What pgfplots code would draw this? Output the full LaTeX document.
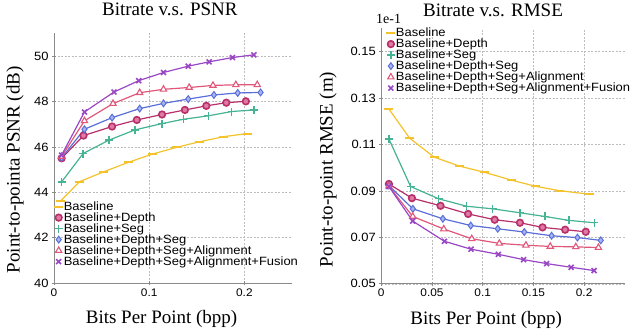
\documentclass[border=0pt]{standalone}
\usepackage{fontspec}
\setmainfont{Liberation Serif}
\newfontfamily\arial[FakeStretch=1.08]{Liberation Sans}
\usepackage{pgfplots}
\pgfplotsset{compat=1.18}
\definecolor{cBase}{HTML}{F4C22B}
\definecolor{cDepth}{HTML}{B8306A}
\definecolor{cDepthF}{HTML}{E07AA5}
\definecolor{cSeg}{HTML}{45B394}
\definecolor{cDS}{HTML}{5A6FD8}
\definecolor{cDSF}{HTML}{A9B5F2}
\definecolor{cAlign}{HTML}{E0577A}
\definecolor{cFus}{HTML}{9947C4}
\definecolor{cAxis}{HTML}{8A8A8A}
\definecolor{cGrid}{HTML}{BDBDBD}
\pgfplotsset{
  myaxis/.style={
    scale only axis,
    axis x line*=bottom, axis y line*=left,
    axis line style={cAxis, line width=0.9pt, -},
    tick style={cAxis, line width=0.8pt},
    tick align=center, major tick length=4pt,
    grid=major,
    major grid style={cGrid, dash pattern=on 2pt off 1.5pt, line width=0.5pt},
    /pgf/number format/assume math mode=true,
    yticklabel style={font=\arial\fontsize{12}{12}\selectfont},
    xticklabel style={font=\arial\fontsize{11}{11}\selectfont},
    label style={font=\fontsize{19}{19}\selectfont},
    title style={font=\fontsize{19}{19}\selectfont},
    legend style={draw=none, fill=none, font=\arial\fontsize{12}{13.6}\selectfont,
      row sep=-0.4pt, inner sep=0pt, nodes={inner sep=0.6pt}},
    legend cell align=left,
    legend image code/.code={\draw[#1, only marks] plot coordinates {(0.12cm,0cm)};},
    every axis plot/.append style={line width=1.2pt},
    scaled ticks=false,
    clip=false,
  },
  sBase/.style={color=cBase, mark=-, mark size=4.5pt, mark options={line width=2pt}},
  sDepth/.style={color=cDepth, mark=*, mark size=3.3pt, mark options={fill=cDepthF, draw=cDepth, line width=1.6pt}},
  sSeg/.style={color=cSeg, mark=+, mark size=4pt, mark options={line width=1.3pt}},
  sDS/.style={color=cDS, mark=diamond*, mark size=3.4pt, mark options={fill=cDSF, draw=cDS, line width=1pt}},
  sAlign/.style={color=cAlign, mark=triangle*, mark size=3.6pt, mark options={fill=white, draw=cAlign, line width=1.1pt}},
  sFus/.style={color=cFus, mark=x, mark size=3.5pt, mark options={line width=1.6pt}},
}
\begin{document}
\begin{tikzpicture}
\path (0pt,0pt) rectangle (633pt,330pt);
% ---------------- Left: PSNR ----------------
\begin{axis}[myaxis,
  at={(54pt,48.7pt)}, anchor=south west,
  width=238pt, height=249.6pt,
  xmin=0, xmax=0.25, ymin=40, ymax=51,
  xtick={0,0.1,0.2}, ytick={40,42,44,46,48,50},
  xticklabel style={/pgf/number format/fixed},
  title={Bitrate v.s. PSNR},
  title style={at={(axis description cs:0.487,1.071)}, anchor=center},
  xlabel={Bits Per Point (bpp)},
  xlabel style={at={(axis description cs:0.452,-0.142)}, anchor=center},
  ylabel={Point-to-pointa PSNR (dB)},
  ylabel style={at={(axis description cs:-0.164,0.454)}, anchor=center},
  legend style={at={(axis description cs:0.0,0.33)}, anchor=north west},
]
\addplot[sBase] coordinates {(0.007,43.62) (0.0268,44.47) (0.0525,44.91) (0.078,45.32) (0.103,45.68) (0.1285,45.98) (0.153,46.23) (0.178,46.45) (0.203,46.59)};
\addlegendentry{Baseline}
\addplot[sDepth] coordinates {(0.008,45.50) (0.031,46.50) (0.061,46.90) (0.087,47.19) (0.1135,47.43) (0.1375,47.63) (0.160,47.81) (0.181,47.95) (0.2015,48.01)};
\addlegendentry{Baseline+Depth}
\addplot[sSeg] coordinates {(0.008,44.46) (0.0306,45.71) (0.0577,46.30) (0.085,46.75) (0.1135,47.03) (0.136,47.22) (0.162,47.37) (0.1865,47.56) (0.210,47.63)};
\addlegendentry{Baseline+Seg}
\addplot[sDS] coordinates {(0.008,45.52) (0.032,46.78) (0.061,47.29) (0.090,47.69) (0.115,47.92) (0.141,48.11) (0.168,48.29) (0.193,48.38) (0.217,48.40)};
\addlegendentry{Baseline+Depth+Seg}
\addplot[sAlign] coordinates {(0.008,45.58) (0.032,47.15) (0.062,47.91) (0.090,48.39) (0.115,48.54) (0.142,48.62) (0.167,48.71) (0.191,48.74) (0.2135,48.74)};
\addlegendentry{Baseline+Depth+Seg+Alignment}
\addplot[sFus] coordinates {(0.008,45.64) (0.032,47.54) (0.063,48.42) (0.089,48.92) (0.115,49.28) (0.141,49.56) (0.163,49.75) (0.1875,49.94) (0.210,50.06)};
\addlegendentry{Baseline+Depth+Seg+Alignment+Fusion}
\end{axis}
% ---------------- Right: RMSE ----------------
\begin{axis}[myaxis,
  at={(381.3pt,48pt)}, anchor=south west,
  width=243.4pt, height=255.3pt,
  xmin=0, xmax=0.24, ymin=0.05, ymax=0.16,
  xtick={0,0.05,0.1,0.15,0.2}, ytick={0.05,0.07,0.09,0.11,0.13,0.15},
  xticklabel style={/pgf/number format/fixed, /pgf/number format/precision=2},
  yticklabel style={/pgf/number format/fixed, /pgf/number format/precision=2, /pgf/number format/fixed zerofill},
  title={Bitrate v.s. RMSE},
  title style={at={(axis description cs:0.459,1.046)}, anchor=center},
  xlabel={Bits Per Point (bpp)},
  xlabel style={at={(axis description cs:0.431,-0.142)}, anchor=center},
  ylabel={Point-to-point RMSE (m)},
  ylabel style={at={(axis description cs:-0.219,0.448)}, anchor=center},
  legend style={at={(axis description cs:0.02,1.005)}, anchor=north west},
]
\addplot[sBase] coordinates {(0.0075,0.1253) (0.028,0.1127) (0.052,0.1046) (0.077,0.1007) (0.102,0.0980) (0.128,0.0947) (0.152,0.0920) (0.176,0.0901) (0.205,0.0886)};
\addlegendentry{Baseline}
\addplot[sDepth] coordinates {(0.0075,0.0930) (0.0302,0.0869) (0.0584,0.0836) (0.0856,0.0801) (0.1118,0.0776) (0.1367,0.0763) (0.159,0.0743) (0.1813,0.0733) (0.2016,0.0724)};
\addlegendentry{Baseline+Depth}
\addplot[sSeg] coordinates {(0.0075,0.1124) (0.0289,0.0919) (0.0567,0.0866) (0.0843,0.0834) (0.1098,0.0823) (0.1367,0.0806) (0.1613,0.0790) (0.1852,0.0773) (0.210,0.0763)};
\addlegendentry{Baseline+Seg}
\addplot[sDS] coordinates {(0.0075,0.0923) (0.0311,0.0823) (0.0607,0.0780) (0.0882,0.0751) (0.1148,0.0737) (0.141,0.0723) (0.1679,0.0707) (0.1934,0.0699) (0.2164,0.0687)};
\addlegendentry{Baseline+Depth+Seg}
\addplot[sAlign] coordinates {(0.0075,0.0920) (0.031,0.0790) (0.0616,0.0736) (0.0892,0.0694) (0.1164,0.0674) (0.1426,0.0666) (0.1666,0.0661) (0.1918,0.0659) (0.2141,0.0656)};
\addlegendentry{Baseline+Depth+Seg+Alignment}
\addplot[sFus] coordinates {(0.0075,0.0919) (0.031,0.0770) (0.0623,0.0683) (0.0885,0.0649) (0.1154,0.0627) (0.1403,0.0604) (0.163,0.0587) (0.1872,0.0571) (0.2098,0.0557)};
\addlegendentry{Baseline+Depth+Seg+Alignment+Fusion}
\node[font=\fontsize{14}{14}\selectfont, anchor=center] at (axis description cs:0.03,1.038) {1e-1};
\end{axis}
\end{tikzpicture}
\end{document}
